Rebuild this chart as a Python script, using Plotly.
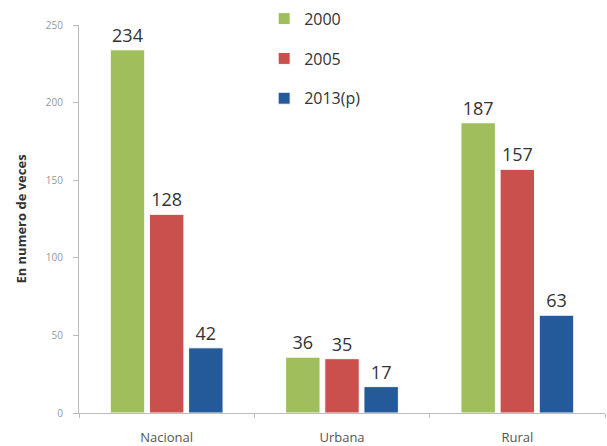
import plotly.graph_objects as go

categorias = ["Nacional", "Urbana", "Rural"]
series = ["2000", "2005", "2013(p)"]
v2000 = [234, 36, 187]
v2005 = [128, 35, 157]
v2013 = [42, 17, 63]

colores = ["#A0BF5C", "#C9504D", "#24599A"]

fig = go.Figure()
for i, (nombre, vals) in enumerate(zip(series, [v2000, v2005, v2013])):
    fig.add_trace(go.Bar(
        x=categorias, y=vals, name=nombre, legendgroup=nombre,
        marker=dict(color=colores[i], line=dict(color="white", width=1)),
        text=vals, textposition="outside", cliponaxis=False,
        textfont=dict(size=18, color="#333333", family="Open Sans"),
    ))

fig.update_layout(
    width=607, height=446,
    margin=dict(l=79, r=2, t=25, b=33, autoexpand=False),
    plot_bgcolor="white", paper_bgcolor="white",
    barmode="group", bargap=0.33, bargroupgap=0.12,
    font=dict(family="Open Sans", color="#444444"),
    legend=dict(x=0.352, y=1.06, xanchor="left", yanchor="top",
                font=dict(size=16, color="#333333"),
                traceorder="grouped", tracegroupgap=16, itemwidth=30,
                bgcolor="rgba(0,0,0,0)"),
    showlegend=True,
)
fig.update_yaxes(range=[0, 250], tickvals=[0, 50, 100, 150, 200, 250],
                 automargin=False,
                 showgrid=False, showline=True, linecolor="#BBBBBB", linewidth=1,
                 ticks="outside", ticklen=5, tickcolor="#BBBBBB", ticklabelstandoff=8,
                 tickfont=dict(size=10, color="#999999"),
                 title=dict(text="<b>En numero de veces</b>", font=dict(size=13, color="#333333"), standoff=16))
fig.update_xaxes(showgrid=False, showline=True, linecolor="#BBBBBB", linewidth=1,
                 automargin=False,
                 ticks="outside", ticklen=4, tickcolor="#BBBBBB", tickson="boundaries",
                 ticklabelstandoff=12,
                 tickfont=dict(size=13, color="#555555"))

# quitar el margen del body para que la figura empiece en (0, 0)
fig.write_html("out.html", config={"displayModeBar": False},
               post_script="document.body.style.margin='0';")
